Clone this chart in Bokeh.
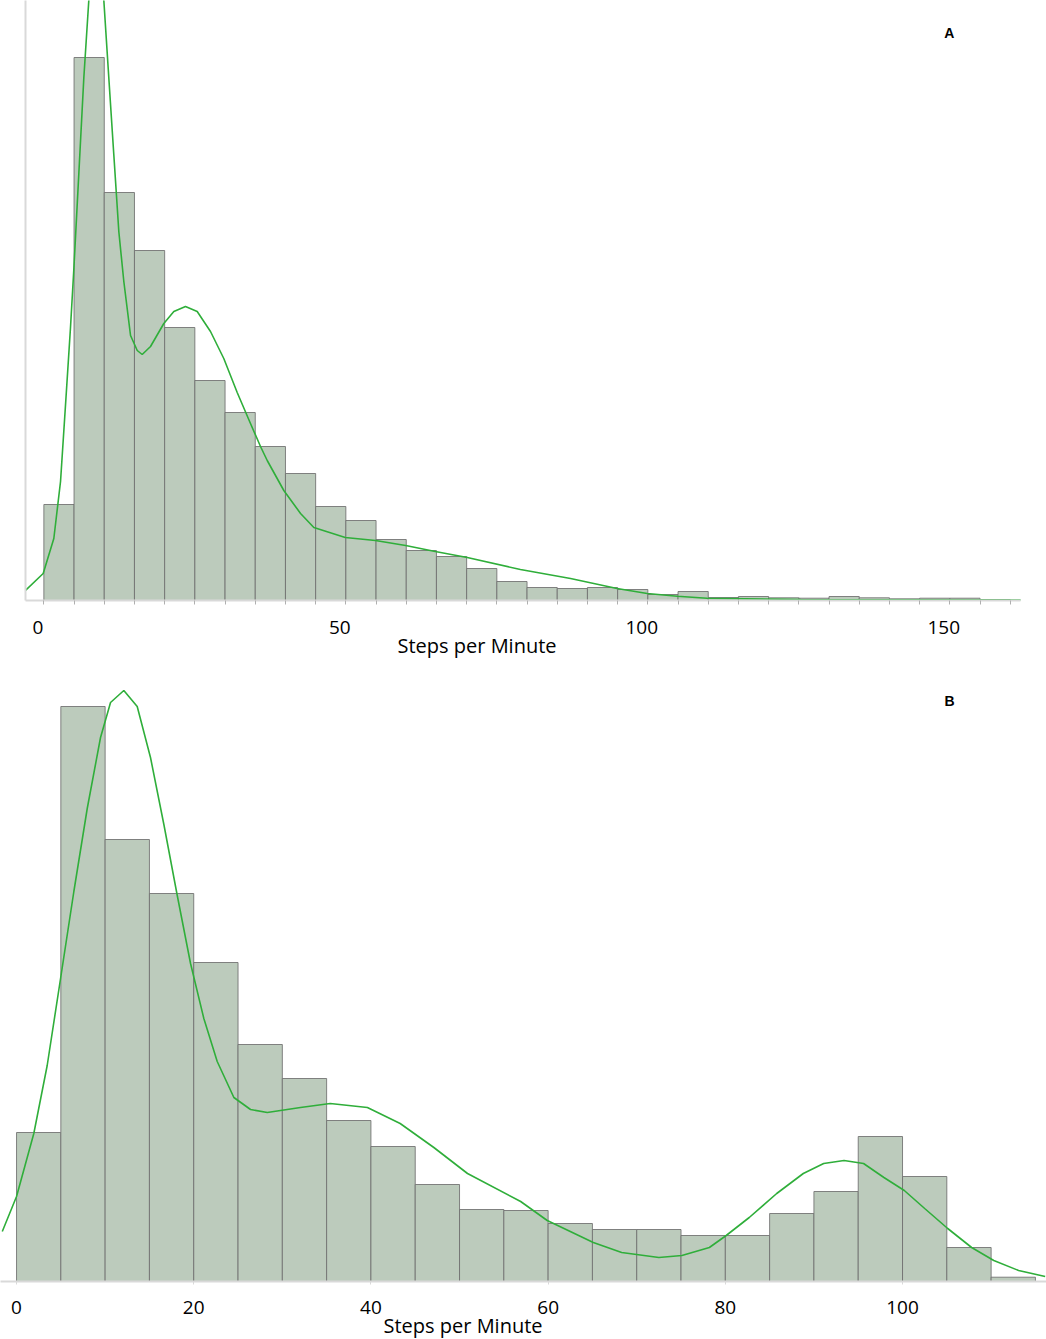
from bokeh.plotting import figure
from bokeh.models import Range1d, FixedTicker, Label, ColumnDataSource, Title
from bokeh.embed import file_html
from bokeh.resources import INLINE

# ---------------- data: panel A ----------------
a_bin_start = 1
a_bin_width = 5
a_counts = [96, 543, 408, 350, 273, 220, 188, 154, 127, 94, 80, 61, 50, 44, 32, 19,
            13, 12, 13, 11, 6, 9, 3, 4, 2.7, 2.3, 4, 2.7, 1.7, 2.3, 2.3, 1]
a_kde_x = [-2.04, 0.89, 2.65, 3.76, 4.59, 5.41, 5.96, 6.79, 7.62, 8.44, 9.0, 9.65,
           10.3, 10.93, 11.75, 12.58, 13.41, 14.24, 15.35, 16.46, 17.28, 18.66,
           20.86, 22.52, 24.45, 26.39, 28.59, 30.79, 33.01, 35.21, 36.87, 37.98,
           40.73, 43.5, 45.7, 50.9, 55.9, 60.9, 65.8, 71.1, 79.9, 88.2, 95.9, 100.9,
           105.9, 110.8, 126.3, 161.0, 163.0]
a_kde_y = [10, 27, 62, 119, 196, 273, 331, 427, 523, 600, 630, 646,
           630, 600, 523, 446, 369, 319, 265, 250, 246, 254,
           277, 289, 294, 289, 269, 242, 208, 177, 154, 140,
           110, 87, 73, 63, 60, 55, 49, 43, 31, 22, 12, 7,
           4.3, 2.3, 1, 0.5, 0.4]
a_ticks = [0, 50, 100, 150]
a_panel = "A"

# ---------------- data: panel B ----------------
b_bin_start = 0
b_bin_width = 5
b_counts = [149, 575, 442, 388, 319, 237, 203, 161, 135, 97, 72, 71,
            58, 52, 52, 46, 46, 68, 90, 145, 105, 34, 4.3]
b_kde_x = [-1.61, 0.0, 1.95, 3.46, 4.97, 6.47, 7.98, 9.48, 10.61, 12.11, 13.62,
           15.12, 16.63, 18.14, 19.64, 21.14, 22.65, 24.53, 26.41, 28.3, 30.17,
           32.05, 35.4, 39.6, 43.3, 47.1, 50.9, 56.9, 59.9, 65.1, 68.3, 72.5,
           75.1, 78.2, 80.1, 82.7, 85.8, 88.8, 91.1, 93.4, 95.6, 97.9, 100.2,
           102.5, 105.1, 107.8, 110.3, 113.1, 116.1]
b_kde_y = [50, 85, 148, 216, 303, 390, 473, 544, 579, 591, 575,
           524, 457, 386, 318, 263, 220, 184, 172, 169, 171.5,
           174, 178, 174, 158, 134, 108, 80, 61, 39, 29, 24,
           26, 34, 46, 64, 88, 108, 118, 121, 118, 104, 91,
           73, 53, 34, 21, 11, 5]
b_ticks = [0, 20, 40, 60, 80, 100]
b_panel = "B"

x_title = "Steps per Minute"

BAR_FILL = "#bccbbc"
BAR_LINE = "#6e6e6e"
KDE_COLOR = "#2fae3a"
AXIS_COLOR = "#d9d9d9"
FONT = "Open Sans"


def histogram_panel(counts, bin_start, bin_width, kde_x, kde_y, ticks, minor,
                    xr, yr, width, height, borders, panel, panel_xy, title_offset,
                    tick_out, standoff, show_left):
    p = figure(width=width, height=height, output_backend="svg",
               toolbar_location=None, x_range=Range1d(*xr), y_range=Range1d(*yr),
               y_axis_location="left" if show_left else None)
    p.min_border_left, p.min_border_right, p.min_border_top, p.min_border_bottom = borders
    p.outline_line_color = None
    p.background_fill_color = "white"
    p.border_fill_color = "white"
    p.grid.visible = False

    lefts = [bin_start + i * bin_width for i in range(len(counts))]
    rights = [l + bin_width for l in lefts]
    src = ColumnDataSource(dict(left=lefts, right=rights, top=counts))
    p.quad(left="left", right="right", bottom=0, top="top", source=src,
           fill_color=BAR_FILL, line_color=BAR_LINE, line_width=1, line_alpha=0.85)
    p.line(kde_x, kde_y, line_color=KDE_COLOR, line_width=1.6)

    ax = p.xaxis[0]
    ax.ticker = FixedTicker(ticks=ticks, minor_ticks=minor)
    ax.axis_line_color = AXIS_COLOR
    ax.axis_line_width = 2
    ax.major_tick_line_color = AXIS_COLOR if tick_out else None
    ax.major_tick_out = tick_out
    ax.major_tick_in = 0
    ax.minor_tick_line_color = "#b0b0b0" if minor else None
    ax.minor_tick_out = 4 if minor else 0
    ax.minor_tick_in = 0
    ax.major_label_standoff = standoff
    ax.major_label_text_font = FONT
    ax.major_label_text_font_size = "19px"
    ax.major_label_text_color = "black"

    if show_left:
        ay = p.yaxis[0]
        ay.ticker = FixedTicker(ticks=[])
        ay.axis_line_color = AXIS_COLOR
        ay.axis_line_width = 2
        ay.major_tick_line_color = None
        ay.minor_tick_line_color = None
        ay.major_label_standoff = 0
        ay.major_label_text_font_size = "0px"

    p.add_layout(Label(x=panel_xy[0], y=panel_xy[1], text=panel,
                       text_font="Liberation Sans", text_font_style="bold",
                       text_font_size="14px", text_align="center",
                       text_baseline="middle", text_color="black"))
    p.add_layout(Title(text=x_title, align="left", offset=title_offset,
                       text_font=FONT, text_font_size="20px",
                       text_font_style="normal", text_color="black",
                       standoff=-14), "below")
    return p


a_edges = [a_bin_start + i * a_bin_width for i in range(len(a_counts) + 1)]
pA = histogram_panel(a_counts, a_bin_start, a_bin_width, a_kde_x, a_kde_y, a_ticks,
                     a_edges, (-2.04, 162.7), (0, 600), 1046, 664, (25, 26, 0, 64),
                     a_panel, (150.9, 568), 372, 0, 16, True)
pB = histogram_panel(b_counts, b_bin_start, b_bin_width, b_kde_x, b_kde_y, b_ticks,
                     [], (-1.81, 116.25), (0, 617), 1046, 675, (0, 0, 0, 58),
                     b_panel, (105.3, 581), 383, 3, 16, False)

open("out.html", "w").write(file_html([pA, pB], INLINE))
